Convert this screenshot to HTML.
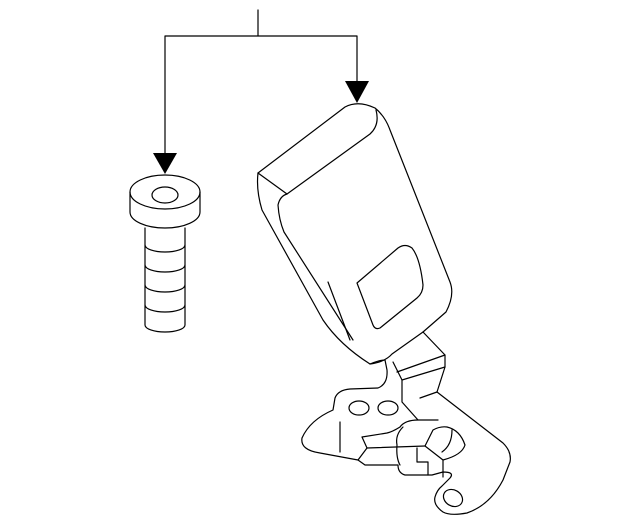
<!DOCTYPE html>
<html><head><meta charset="utf-8"><style>
html,body{margin:0;padding:0;background:#fff;}
svg{display:block;}
</style></head><body>
<svg width="640" height="524" viewBox="0 0 640 524" xmlns="http://www.w3.org/2000/svg" fill="none" stroke="#000" stroke-width="1.2" stroke-linejoin="round" stroke-linecap="round">
<!-- leader lines -->
<path d="M258 10 V36 M165 36 H357 M165 36 V154 M357 36 V82"/>
<polygon points="153,153 177,153 165,174" fill="#000" stroke="none"/>
<polygon points="345,81 369,81 357,103" fill="#000" stroke="none"/>
<!-- bolt -->
<ellipse cx="165" cy="192" rx="35" ry="17" fill="#fff"/>
<ellipse cx="165" cy="195" rx="13" ry="8"/>
<path d="M130 192 V212 A35 16 0 0 0 200 212 V192"/>
<path d="M145 228 V325 A20 7 0 0 0 185 325 V228"/>
<path d="M145 245 A20 7 0 0 0 185 245 M145 265 A20 7 0 0 0 185 265 M145 285 A20 7 0 0 0 185 285 M145 305 A20 7 0 0 0 185 305"/>
<!-- buckle body -->
<path d="M258 173 L345 107 Q358 100 375 108 Q385 116 390 130 L450 282 Q455 295 446 312 L423 332"/>
<path d="M258 173 Q256 190 262 210 L323 320 Q340 345 370 364 Q385 362 392 354 L423 332"/>
<path d="M258 173 L287 194 L370 134 Q380 125 376 110"/>
<path d="M287 194 Q280 196 278 205 Q279 220 284 232 L353 340"/>
<path d="M328 282 L350 340"/>
<path d="M357 283 L398 248 Q405 243 412 248 Q420 258 423 285 Q423 293 417 298 L380 328 Q375 330 373 325 Z"/>
<!-- neck -->
<path d="M423 332 L445 355 V367 L437 392"/>
<path d="M393 362 L402 380 M397 372 L445 355 M402 380 L445 367"/>
<!-- bracket -->
<path d="M437 392 L503 443 Q512 452 510 462 L503 480 Q490 505 467 513 Q450 516 443 512 Q433 505 435 497 Q437 490 442 486 L450 478 Q455 472 443 472 L432 475 L405 475 Q398 473 398 465 L365 465 L358 460 L320 453 Q300 450 302 438 Q310 420 333 410 L335 398 Q338 390 350 389 L378 388 Q388 384 387 370 L385 360"/>
<path d="M370 364 Q380 360 385 360"/>
<ellipse cx="359" cy="408" rx="10" ry="7"/>
<ellipse cx="388" cy="408" rx="10" ry="7"/>
<ellipse cx="453" cy="498" rx="10" ry="8" transform="rotate(30 453 498)"/>
<path d="M340 422 V452"/>
<path d="M402 380 V402 L418 420 H438"/>
<path d="M418 420 Q405 420 400 427 Q392 432 387 433 L362 437 L367 448 L358 460"/>
<path d="M367 448 L425 446"/>
<path d="M403 427 Q395 435 397 445 Q396 458 400 465"/>
<path d="M425 446 L433 430 Q440 426 447 427 Q460 430 465 445 Q462 455 443 460 Z"/>
<path d="M452 430 Q452 445 442 452"/>
<path d="M443 460 V477"/>
<path d="M417 448 V462 H428 V475"/>
<path d="M420 398 L437 392"/>
</svg>
</body></html>
